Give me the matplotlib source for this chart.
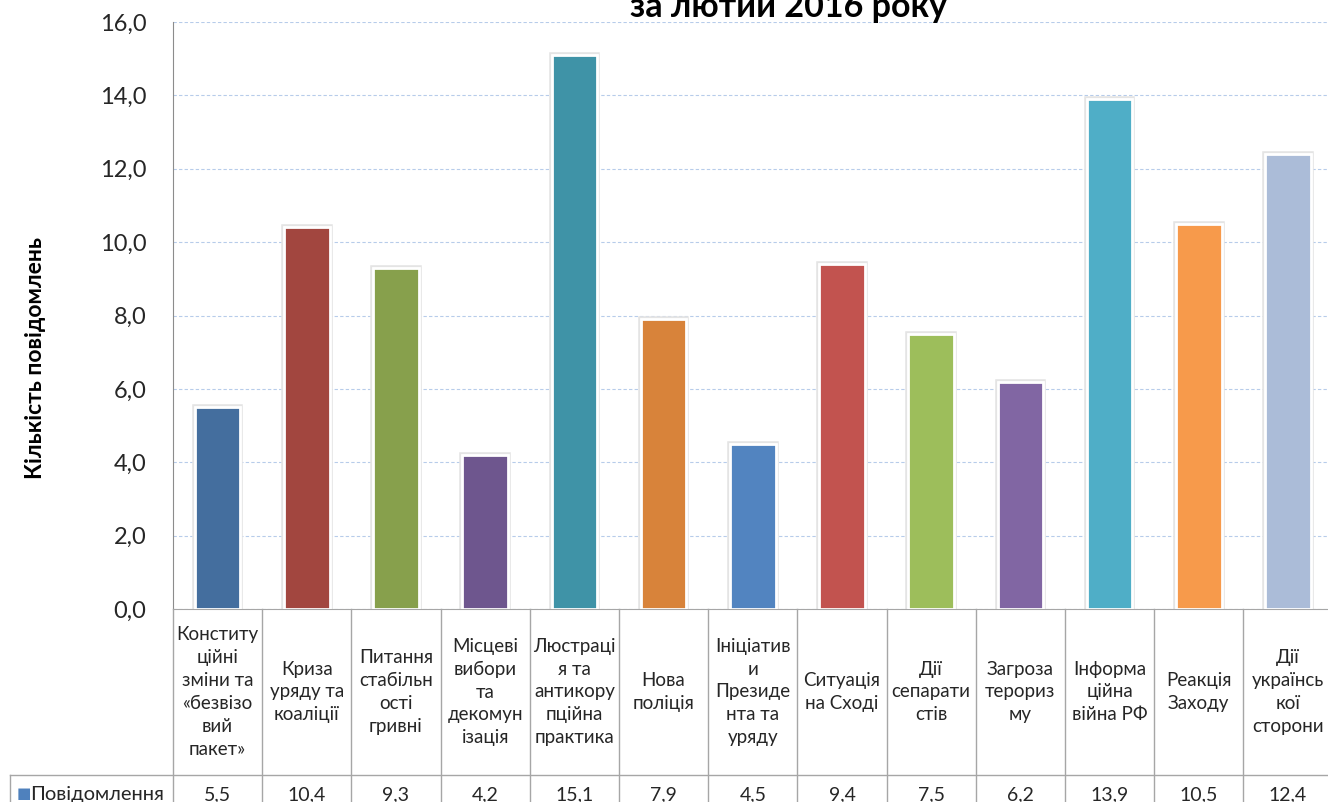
import matplotlib
matplotlib.use("Agg")
import matplotlib.pyplot as plt

plt.rcParams['font.family'] = ['Lato', 'DejaVu Sans']

# Data
categories = [
    "Конститу\nційні\nзміни та\n«безвізо\nвий\nпакет»",
    "Криза\nуряду та\nкоаліції",
    "Питання\nстабільн\nості\nгривні",
    "Місцеві\nвибори\nта\nдекомун\nізація",
    "Люстраці\nя та\nантикору\nпційна\nпрактика",
    "Нова\nполіція",
    "Ініціатив\nи\nПрезиде\nнта та\nуряду",
    "Ситуація\nна Сході",
    "Дії\nсепарати\nстів",
    "Загроза\nтерориз\nму",
    "Інформа\nційна\nвійна РФ",
    "Реакція\nЗаходу",
    "Дії\nукраїнсь\nкої\nсторони",
]
values = [5.5, 10.4, 9.3, 4.2, 15.1, 7.9, 4.5, 9.4, 7.5, 6.2, 13.9, 10.5, 12.4]
series_name = "Повідомлення"
yticks = [0, 2, 4, 6, 8, 10, 12, 14, 16]
title = "за лютий 2016 року"
ylabel = "Кількість повідомлень"

colors = ["#446E9E", "#A2463F", "#87A04C", "#6E568E", "#3F93A7", "#D8833A",
          "#5284C0", "#C2534F", "#9DBE5B", "#8166A3", "#4FAEC7", "#F79A4B",
          "#ABBCD8"]

W, H = 1328, 802
fig = plt.figure(figsize=(W / 100, H / 100), dpi=100)

# pixel geometry of the plot area
left_px, right_px = 173, 1332.6
top_px, base_px = 22, 609
n = len(values)
colw = (right_px - left_px) / n

ax = fig.add_axes([left_px / W, (H - base_px) / H,
                   (right_px - left_px) / W, (base_px - top_px) / H])
x = list(range(n))
# soft shadow + white-framed bars
ax.bar(x, values, width=0.51, color="none", edgecolor="#e4e4e4",
       linewidth=4, zorder=2)
ax.bar(x, values, width=0.51, color=colors, edgecolor="white",
       linewidth=2, zorder=3)

ax.set_xlim(-0.5, n - 0.5)
ax.set_ylim(0, 16)
ax.set_yticks(yticks)
ax.set_yticklabels([f"{v:.1f}".replace(".", ",") for v in yticks],
                   fontsize=17, color="#262626")
ax.tick_params(axis="y", length=0, pad=19)
ax.set_xticks([])
ax.grid(axis="y", color="#B7CCEA", linestyle=(0, (3, 2)), linewidth=0.8,
        zorder=0)
ax.set_axisbelow(True)
for s in ("top", "right"):
    ax.spines[s].set_visible(False)
ax.spines["left"].set_color("#8C8C8C")
ax.spines["bottom"].set_color("#A6A6A6")

# data table underneath
tab = fig.add_axes([0, 0, right_px / W, (H - base_px) / H])
tab.set_xlim(-0.5 - left_px / colw, n - 0.5)
tab.set_ylim(H, base_px)
tab.axis("off")
line_c = "#A6A6A6"
row_split = 775
for i in range(n + 1):
    tab.plot([i - 0.5, i - 0.5], [base_px, H], color=line_c, lw=1,
             clip_on=False)
x_leg = -0.5 - (left_px - 10) / colw
tab.plot([x_leg, n - 0.5], [row_split, row_split], color=line_c, lw=1,
         clip_on=False)
tab.plot([x_leg, x_leg], [row_split, H], color=line_c, lw=1, clip_on=False)

for i, (cat, v) in enumerate(zip(categories, values)):
    tab.text(i, 692, cat, ha="center", va="center", fontsize=13.5,
             linespacing=1.42, color="#262626")
    tab.text(i, 795, f"{v:.1f}".replace(".", ","), ha="center",
             va="center", fontsize=14, color="#262626")

x_sq = -0.5 - (left_px - 17) / colw
tab.text(x_sq, 794, "■", ha="left", va="center", fontsize=11,
         color="#4F81BD", family=["DejaVu Sans"])
tab.text(-0.5 - (left_px - 30) / colw, 795, series_name, ha="left",
         va="center", fontsize=14.5, color="#262626")

fig.text(788 / W, 1 - 17 / H, title, ha="center", va="baseline",
         fontsize=24.5, fontweight="bold", color="black")
fig.text(36 / W, 1 - 358 / H, ylabel, rotation=90, ha="center",
         va="center", fontsize=16.5, fontweight="bold", color="black")

fig.savefig("out.png", dpi=100)
